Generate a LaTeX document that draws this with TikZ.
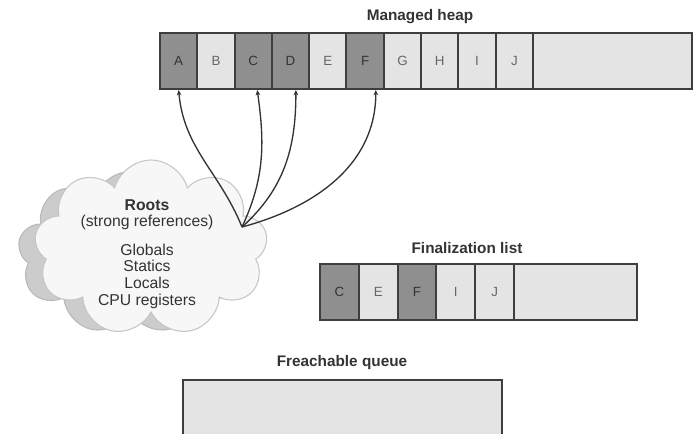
\documentclass[tikz,border=0pt]{standalone}
\usepackage{fontspec}
\setmainfont{Liberation Sans}
\usetikzlibrary{shapes.symbols,arrows.meta}
\definecolor{rim}{HTML}{3E3E3E}
\definecolor{live}{HTML}{8F8F8F}
\definecolor{dead}{HTML}{E4E4E4}
\definecolor{ink}{HTML}{333333}
\begin{document}
\begin{tikzpicture}[
    x=0.75pt, y=-0.75pt, >=Stealth,
    cell/.style={draw=rim, line width=1.5pt, minimum height=42pt, inner sep=0pt,
                 font=\fontsize{10}{12}\selectfont},
    reached/.style={cell, fill=live, text=ink, minimum width=28pt},
    spare/.style={cell, fill=dead, text=gray!80!black, minimum width=28pt},
    rest/.style={cell, fill=dead},
    title/.style={font=\bfseries\fontsize{11.5}{13}\selectfont, text=ink},
    puff/.style={cloud, cloud puffs=9, aspect=1.4, line width=0.8pt},
    ref/.style={->, draw=gray!40!black, line width=1pt,
                {-Stealth[length=4pt,width=3.5pt]}}]
  \useasboundingbox (0,0) rectangle (696,433);
  % managed heap
  \node[title] (heaptitle) at (420,17) {Managed heap};
  \node[reached] (A) at (178.65,61) {A};
  \node[spare]   (B) at (215.95,61) {B};
  \node[reached] (C) at (253.25,61) {C};
  \node[reached] (D) at (290.55,61) {D};
  \node[spare]   (E) at (327.85,61) {E};
  \node[reached] (F) at (365.15,61) {F};
  \node[spare]   (G) at (402.45,61) {G};
  \node[spare]   (H) at (439.75,61) {H};
  \node[spare]   (I) at (477.05,61) {I};
  \node[spare]   (J) at (514.35,61) {J};
  \node[rest, minimum width=119.25pt] (heaprest) at (612.5,61) {};
  % roots cloud
  \node[puff, fill=gray!40, draw=gray!55, minimum width=168pt, minimum height=122pt]
    (haze) at (130,253) {};
  \node[puff, fill=gray!6, draw=gray!45, minimum width=175pt, minimum height=132pt]
    (sky) at (151,248) {};
  \node[align=center, text=ink, font=\fontsize{11.8}{12.6}\selectfont]
    (roots) at (147,254) {\textbf{Roots}\\(strong references)\\[8.5pt]Globals\\Statics\\Locals\\CPU registers};
  \coordinate (src) at (242,227);
  % finalization list
  \node[title] (fintitle) at (467,248) {Finalization list};
  \node[reached, minimum width=29pt] (fC) at (339.4,291.5) {C};
  \node[spare, minimum width=29pt]   (fE) at (378.2,291.5) {E};
  \node[reached, minimum width=29pt] (fF) at (417,291.5) {F};
  \node[spare, minimum width=29pt]   (fI) at (455.8,291.5) {I};
  \node[spare, minimum width=29pt]   (fJ) at (494.6,291.5) {J};
  \node[rest, minimum width=92.25pt] (finrest) at (575.5,291.5) {};
  % freachable queue
  \node[title] (freetitle) at (342,363) {Freachable queue};
  \node[rest, minimum width=239.25pt] (queue) at (342.5,407.5) {};
  % strong references
  \draw[ref] (src) to[out=112,in=-85] (A.south);
  \draw[ref] (src) to[out=65,in=-82] ([xshift=3pt]C.south);
  \draw[ref] (src) to[out=42,in=-90] ([xshift=4pt]D.south);
  \draw[ref] (src) to[out=15,in=-90] ([xshift=8pt]F.south);
\end{tikzpicture}
\end{document}
